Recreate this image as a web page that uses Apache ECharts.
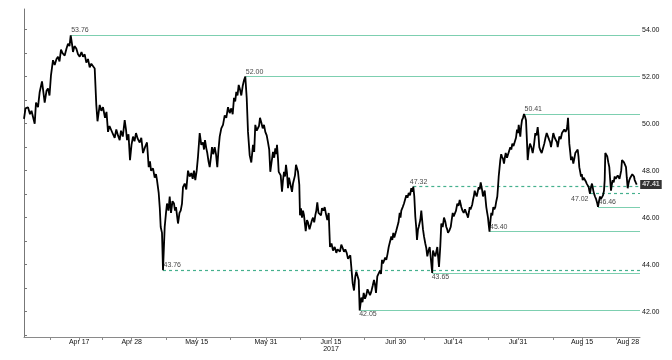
<!DOCTYPE html>
<html><head><meta charset="utf-8">
<script src="https://cdn.jsdelivr.net/npm/echarts@6/dist/echarts.min.js"></script>
<style>html,body{margin:0;padding:0;background:#fff}#c{width:672px;height:360px}</style>
</head><body><div id="c"></div>
<script>
// bar index (approx. 4-hour bars since start) and price
const bars = [0,1.5,4,6,7.5,10.7,12,14,15.7,18,19.5,20.7,22.5,24,25.5,27,29,30.7,32.5,34,35.5,37,38.5,40.7,42.5,44,45.5,46.7,48,49,50.5,52.3,54,55.7,57.5,59,60.7,62.3,64,65.7,67.3,69,70.7,72.3,73.5,75.7,77.3,79,81,82.5,84,85.5,87,89,90.7,92.3,94,95.7,97,98.8,100.7,102,103,104.5,106,107.5,109,110.5,112,113.8,115.7,117.3,119,121,123,124.7,126,127,129,130.7,132,133,134.7,135.8,136.7,138,139,140.7,142,143,144.5,145.7,147,148.5,150,151,152,153,154,155.5,156.7,158,159,160.7,162.3,164,165.7,167.3,168.7,170,171.3,172.7,174,175.7,177.3,179,180,181,182.3,183.3,184.5,185.7,187,188,189.3,190.7,192,193.3,194.5,195.7,197.3,199,200.7,202.3,204,205.7,207.3,208.7,210,211.2,212.3,213.5,214.7,216,217.3,218.7,220,221.3,222.7,224,225.7,227.3,229,230.2,231.3,232.7,234,235,236,237.3,238.7,240,241.3,242.7,244,245.2,246.3,247.7,249,250.2,251.3,252.2,253,254,254.7,256.7,258,259,260,261,262,263,264,265,266,267,268,269,270,271,272,273,274,275.3,276,277,278,279,280,281,281.7,283,284,285.5,286.7,288,289,290.2,291.3,292.3,293.3,294.5,295.7,297,298,299.5,300.7,302,303.3,304.7,306,307.5,309,310.7,312.3,313.5,314.7,316,317.3,318.7,320,321.3,322.7,324,325.3,326.3,327.3,328.7,330,331.3,332.3,333.3,334.7,335.7,337.3,338.5,339.7,341,342.3,343.5,344.7,346,347.3,348.7,350,351,352,353.3,354.7,356,357,358,359,360,361.2,362.3,363.5,364.7,366,367.3,368.3,369.3,370.3,371.3,372.3,373.3,374.5,375.7,376.5,377.3,378.7,380,381.2,382.3,383.5,384.7,386,387.3,388.3,389.3,390.3,391.3,392.2,393,394,394.7,396.3,397.3,399,400,401.3,402.3,403.3,404.5,405.7,406.5,407.3,408.2,409,410.2,411.3,412.3,413.3,414.2,415,416.3,417.3,418.7,420,421.2,422.3,423.2,424,425.3,426.7,427.7,428.7,429.7,430.7,432,433.3,434.5,435.7,436.5,437.3,438.5,439.7,441,442.3,443.2,444,445,445.7,446.5,447.3,448.2,449,450,450.7,451.7,452.7,453.7,454.7,455.7,456.7,458,459,460,460.7,461.5,462.3,463.2,464,464.7,465.5,466.5,467.3,468.3,469.3,470.3,471.3,472.3,473.3,474,474.7,475.5,476.3,477.2,478,479,480,481,481.7,483,484,485.2,486.3,487.3,488.3,489.5,490.7,492,493,494,494.7,495.5,496.3,497.2,498,499,500,501,502,503,503.7,504.8,506,507.3,508.7,510,511.3,512.5,513.7,514.5,515.3,516.5,517.7,519,520.3,521.5,522.7,524,525.3,526.2,527,528.2,529.3,530.7,532,533,533.7,534.5,535.3,536.7,538,539.2,540.3,541.5,542.7,543.3,544,544.7,545.3,546.2,547,548.2,549.3,550.3,551.3,552.5,553.7,554.5,555.3,556.2,557,557.8,558.7,559.7,560.7,561.7,562.7,563.7,564.7,565.3,566,567,568,568.7,569.3,570.2,571,572,572.7,573.3,574,575,576,577,578,579,580,580.7,581.3,582.3,583.3,584.3,585.3,586.2,587,587.8,588.7,589.7,590.7,591.7,592.7,593.7,594.7,595.5,596.3,597.2,598,599,600,601,602,602.8,603.7,604.5,605.3,606.3,607.3,608.3,609.3,610,610.7,611.7,612.7];
const prices = [50.20,50.65,50.70,50.40,50.55,50.00,50.90,50.70,51.35,51.80,51.30,50.90,51.40,51.50,51.20,52.07,52.70,52.50,52.75,52.85,52.65,53.15,53.00,52.90,53.20,53.40,53.30,53.76,53.40,53.05,53.30,53.20,52.95,52.85,53.05,52.85,52.95,52.60,52.75,52.40,52.55,52.60,52.35,50.80,50.10,50.80,50.55,50.70,50.25,50.50,49.65,49.90,49.95,49.55,49.40,49.75,49.50,49.30,49.70,49.45,50.15,49.75,49.30,49.55,48.45,49.10,49.45,49.25,49.60,49.35,49.20,49.40,48.75,49.00,49.20,48.15,48.40,48.00,48.10,47.70,47.85,47.60,47.05,46.40,45.60,45.35,43.76,45.60,46.20,46.60,46.30,46.90,46.20,46.70,46.60,46.30,46.45,46.10,45.75,46.20,46.30,46.60,47.30,47.45,47.20,48.00,47.75,47.90,47.65,48.00,47.60,48.00,48.60,49.60,49.10,49.20,48.90,49.30,48.95,48.75,48.40,48.15,48.60,49.00,48.70,49.00,48.70,48.15,48.90,49.45,49.80,49.95,50.35,50.25,50.70,50.45,50.65,50.40,51.10,50.95,51.35,51.20,51.65,51.45,51.20,51.60,51.85,52.00,51.10,49.65,48.65,48.35,49.10,48.80,49.95,49.70,49.65,49.90,50.25,50.05,49.80,49.95,49.65,49.50,49.20,48.90,47.95,48.40,48.80,48.55,48.95,48.70,49.10,48.50,47.95,47.80,47.10,47.60,47.95,47.75,48.25,47.90,47.25,47.70,47.50,47.30,47.10,47.45,47.40,47.80,48.25,48.10,47.95,47.40,46.10,46.40,46.00,46.30,46.10,45.70,45.42,45.90,45.80,45.50,45.55,45.90,46.00,45.80,46.10,46.30,46.65,46.20,46.25,46.10,46.40,46.30,46.45,46.15,45.90,46.20,44.75,44.90,44.60,44.75,44.50,44.65,44.70,44.55,44.85,44.70,44.55,44.65,44.50,44.25,44.20,44.40,44.35,43.20,42.90,43.50,43.70,43.75,43.35,42.05,42.60,42.40,42.80,42.55,42.70,42.95,42.90,42.70,42.85,43.10,43.35,43.15,42.80,43.50,43.45,43.75,43.60,44.20,44.05,44.00,44.30,44.20,44.45,44.75,44.70,45.20,45.05,45.35,45.15,45.20,45.45,45.50,45.80,46.20,46.00,46.30,46.45,46.60,46.55,46.95,46.85,47.05,46.95,47.25,47.10,47.32,46.90,46.05,45.60,45.05,45.50,45.60,45.90,46.30,45.50,45.20,44.90,44.70,44.35,44.60,44.75,44.40,44.05,43.65,44.60,44.45,44.35,44.55,44.75,44.30,43.90,44.80,45.75,45.60,46.00,45.85,45.60,45.50,45.35,45.45,45.60,45.90,46.20,46.05,46.00,46.30,46.60,46.50,46.75,46.60,46.45,46.30,46.20,46.35,46.20,46.10,46.00,46.25,46.45,46.35,46.30,46.55,46.75,46.95,47.15,47.00,46.90,47.10,47.30,47.20,47.50,47.20,46.90,47.05,47.15,46.80,46.45,46.20,46.00,45.70,45.40,45.90,46.20,46.10,46.45,46.35,46.45,46.70,46.90,47.30,47.75,48.10,48.45,48.70,48.60,48.50,48.30,48.60,48.75,48.55,48.60,48.85,49.00,48.90,49.15,49.05,49.00,49.40,49.75,49.60,49.95,49.70,49.45,49.90,50.15,50.25,50.41,50.30,50.15,49.20,48.45,48.90,49.15,49.00,48.75,49.10,49.60,49.50,49.85,49.50,49.00,48.85,48.75,48.95,49.15,49.40,49.60,49.45,49.30,49.20,49.00,49.30,49.60,49.40,49.45,49.20,49.00,49.20,49.45,49.35,49.60,49.55,49.75,49.65,49.75,49.90,50.25,49.70,49.15,48.80,48.45,48.60,48.30,48.50,48.75,48.70,48.90,48.60,48.15,47.95,47.75,47.85,47.60,47.70,47.75,47.55,47.45,47.50,47.30,47.15,47.02,47.30,47.45,47.30,47.15,47.00,46.90,46.80,46.75,46.60,46.46,46.70,46.90,46.80,46.75,46.95,47.15,47.60,48.75,48.70,48.60,48.35,48.15,47.60,47.15,47.40,47.60,47.50,47.75,47.65,47.60,47.80,47.75,47.65,47.60,48.00,48.45,48.40,48.35,48.40,48.15,47.70,47.25,47.45,47.60,47.70,47.75,47.85,47.90,47.75,47.60,47.50,47.41];
// annotated highs/lows
const levels = [53.76, 52.00, 50.41, 47.32, 47.02, 46.46, 45.40, 43.76, 43.65, 42.05];
const dashedLevels = [47.32, 47.02, 43.76];
// date axis
const tickBars = [26, 55.2, 78, 107.7, 142.7, 172.7, 206.7, 242, 276.7, 307, 340, 371.7, 400, 429, 464, 494, 529, 558, 592.3, 604];
const labelBars = [55.2, 107.7, 172.7, 242, 307, 371.7, 429, 494, 558, 604];
const labelTexts = ['Apr 17', 'Apr 28', 'May 15', 'May 31', 'Jun 15\n2017', 'Jun 30', 'Jul 14', 'Jul 31', 'Aug 15', 'Aug 28'];
// price axis
const yLabels = [42, 44, 46, 48, 50, 52, 54];
const yTicks = [41, 42, 43, 44, 45, 46, 47, 48, 49, 50, 51, 52, 53, 54];

const FONT = '"Liberation Sans", Arial, sans-serif';
const xMax = 616;
const lineData = bars.map((b, i) => [b, prices[i]]);
const startOf = lv => bars[prices.findIndex(p => Math.abs(p - lv) < 1e-9)];
const place = {'43.65': 'below', '42.05': 'below', '47.02': 'left', '47.32': 'aboveLeft'};
const labelPos = side => {
  if (side === 'below') return {position: [0, 1]};
  if (side === 'left') return {position: [-1, 2], align: 'right'};
  if (side === 'aboveLeft') return {position: [-3, -8]};
  return {position: [1, -8]};
};
const isDashed = lv => dashedLevels.indexOf(lv) >= 0;

const chart = echarts.init(document.getElementById('c'));
chart.setOption({
  animation: false,
  grid: {left: 24, right: 32, top: 9, bottom: 23},
  xAxis: {
    type: 'value', min: 0, max: xMax,
    axisLine: {show: true, lineStyle: {color: '#8a8a8a', width: 1}},
    splitLine: {show: false},
    axisTick: {show: true, customValues: tickBars, length: 3, lineStyle: {color: '#8a8a8a'}},
    axisLabel: {
      customValues: labelBars,
      formatter: v => {
        let best = 0;
        labelBars.forEach((b, i) => { if (Math.abs(b - v) < Math.abs(labelBars[best] - v)) best = i; });
        return labelTexts[best];
      },
      fontSize: 7, color: '#111', margin: 2, lineHeight: 7, fontFamily: FONT
    }
  },
  yAxis: {
    type: 'value', position: 'right', min: 40.92, max: 54.88,
    axisLine: {show: true, lineStyle: {color: '#777', width: 1}},
    splitLine: {show: false},
    axisTick: {show: true, customValues: yTicks, length: 3, lineStyle: {color: '#777'}},
    axisLabel: {customValues: yLabels, formatter: v => v.toFixed(2), fontSize: 7, color: '#111', margin: 2, fontFamily: FONT}
  },
  series: [
    {
      type: 'line', data: lineData, showSymbol: false, z: 5,
      lineStyle: {color: '#000', width: 1.8},
      markLine: {
        silent: true, symbol: ['none', 'none'], label: {show: false}, z: 2,
        data: levels.map(lv => [
          {coord: [startOf(lv), lv], lineStyle: {type: isDashed(lv) ? [3, 3] : 'solid', color: isDashed(lv) ? '#45b08e' : '#7dcfb0', width: 1.2}},
          {coord: [xMax, lv]}
        ])
      }
    },
    {
      type: 'scatter', symbolSize: 1, itemStyle: {color: 'rgba(0,0,0,0)'}, silent: true, z: 6,
      data: levels.map(lv => ({
        value: [startOf(lv), lv],
        label: Object.assign({show: true, formatter: lv.toFixed(2), fontSize: 7, color: '#111', fontFamily: FONT}, labelPos(place[lv.toFixed(2)]))
      }))
    },
    {
      type: 'scatter', symbolSize: 1, itemStyle: {color: 'rgba(0,0,0,0)'}, silent: true, z: 7,
      data: [[bars[bars.length - 1], prices[prices.length - 1]]],
      label: {show: true, position: 'right', distance: 3, formatter: p => p.value[1].toFixed(2),
        backgroundColor: '#000', color: '#fff', padding: [1, 2, 1, 2], fontSize: 7, fontWeight: 'bold', fontFamily: FONT}
    }
  ]
});
</script>
</body></html>
